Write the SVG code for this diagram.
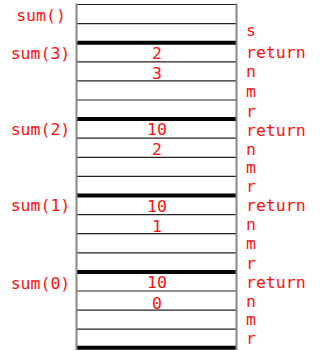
<svg xmlns="http://www.w3.org/2000/svg" width="322" height="351" viewBox="0 0 322 351">
<style>
text{font-family:"DejaVu Sans Mono","Liberation Mono",monospace;font-size:16.5px;fill:#ff1010}
.l{text-anchor:middle}
.v{text-anchor:middle}
.thin{stroke:#222;stroke-width:1.2}
.thick{stroke:#000;stroke-width:4}
.side{stroke:#888;stroke-width:2}
</style>
<rect x="76.5" y="4.5" width="160" height="344" fill="#fff"/>
<g id="frame-main">
<line class="thin" x1="76.5" y1="4.5" x2="236.5" y2="4.5"/>
<line class="thin" x1="76.5" y1="23.6" x2="236.5" y2="23.6"/>
<text class="l" x="41" y="20.7">sum()</text>
<text x="246" y="36">s</text>
</g>
<g id="frame-sum3">
<line class="thick" x1="76.5" y1="42.7" x2="236.5" y2="42.7"/>
<line class="thin" x1="76.5" y1="61.8" x2="236.5" y2="61.8"/>
<line class="thin" x1="76.5" y1="80.9" x2="236.5" y2="80.9"/>
<line class="thin" x1="76.5" y1="100" x2="236.5" y2="100"/>
<text class="l" x="40.5" y="58.5">sum(3)</text>
<text class="v" x="157" y="59">2</text>
<text class="v" x="157" y="79.3">3</text>
<text x="246" y="57.5">return</text>
<text x="246" y="77.3">n</text>
<text x="246" y="97">m</text>
<text x="246" y="116.5">r</text>
</g>
<g id="frame-sum2">
<line class="thick" x1="76.5" y1="119.1" x2="236.5" y2="119.1"/>
<line class="thin" x1="76.5" y1="138.2" x2="236.5" y2="138.2"/>
<line class="thin" x1="76.5" y1="157.3" x2="236.5" y2="157.3"/>
<line class="thin" x1="76.5" y1="176.4" x2="236.5" y2="176.4"/>
<text class="l" x="40.5" y="134.5">sum(2)</text>
<text class="v" x="157" y="135.3">10</text>
<text class="v" x="157" y="155.3">2</text>
<text x="246" y="135.5">return</text>
<text x="246" y="154.5">n</text>
<text x="246" y="173.3">m</text>
<text x="246" y="192.1">r</text>
</g>
<g id="frame-sum1">
<line class="thick" x1="76.5" y1="195.5" x2="236.5" y2="195.5"/>
<line class="thin" x1="76.5" y1="214.6" x2="236.5" y2="214.6"/>
<line class="thin" x1="76.5" y1="233.7" x2="236.5" y2="233.7"/>
<line class="thin" x1="76.5" y1="252.8" x2="236.5" y2="252.8"/>
<text class="l" x="40.5" y="211">sum(1)</text>
<text class="v" x="157" y="211.5">10</text>
<text class="v" x="157" y="231.5">1</text>
<text x="246" y="211">return</text>
<text x="246" y="230.2">n</text>
<text x="246" y="249.4">m</text>
<text x="246" y="268.6">r</text>
</g>
<g id="frame-sum0">
<line class="thick" x1="76.5" y1="271.9" x2="236.5" y2="271.9"/>
<line class="thin" x1="76.5" y1="291" x2="236.5" y2="291"/>
<line class="thin" x1="76.5" y1="310.1" x2="236.5" y2="310.1"/>
<line class="thin" x1="76.5" y1="329.2" x2="236.5" y2="329.2"/>
<line class="thick" x1="76.5" y1="347.8" x2="236.5" y2="347.8"/>
<text class="l" x="40.5" y="288.7">sum(0)</text>
<text class="v" x="157" y="288.3">10</text>
<text class="v" x="157" y="309">0</text>
<text x="246" y="287.8">return</text>
<text x="246" y="306.6">n</text>
<text x="246" y="325.4">m</text>
<text x="246" y="344.2">r</text>
</g>
<g id="connectors">
<line class="side" x1="76.5" y1="3.5" x2="76.5" y2="350"/>
<line class="side" x1="236.5" y1="3.5" x2="236.5" y2="350"/>
</g>
</svg>
